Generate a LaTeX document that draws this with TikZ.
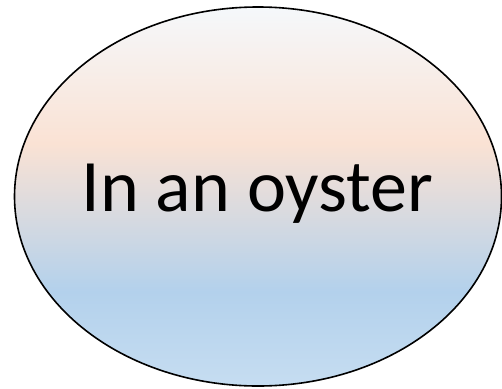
\documentclass[tikz,border=0pt]{standalone}
\usepackage{fontspec}
\setmainfont{Carlito}
\usetikzlibrary{shapes.geometric}
\definecolor{topc}{HTML}{F5F8FB}
\definecolor{peach}{HTML}{FAE2D4}
\definecolor{blu}{HTML}{B3D1EC}
\definecolor{botc}{HTML}{C6DDF1}
\pgfdeclareverticalshading{oystershade}{100bp}{color(0bp)=(botc); color(25bp)=(botc); color(37.5bp)=(blu); color(57bp)=(peach); color(75bp)=(topc); color(100bp)=(topc)}
\tikzset{
  shell/.style={ellipse, draw=black, line width=1.6pt, shading=oystershade, minimum width=487pt, minimum height=379pt, inner sep=0pt},
  caption/.style={font=\fontsize{74pt}{84pt}\selectfont, text=black, inner sep=0pt, anchor=base}
}
\begin{document}
\begin{tikzpicture}[x=1pt,y=-1pt]
\useasboundingbox (0,0) rectangle (502,388);
\node[shell] (oyster) at (258,196.5) {};
\node[caption] (label) at (257.5,211) {In an oyster};
\end{tikzpicture}
\end{document}
